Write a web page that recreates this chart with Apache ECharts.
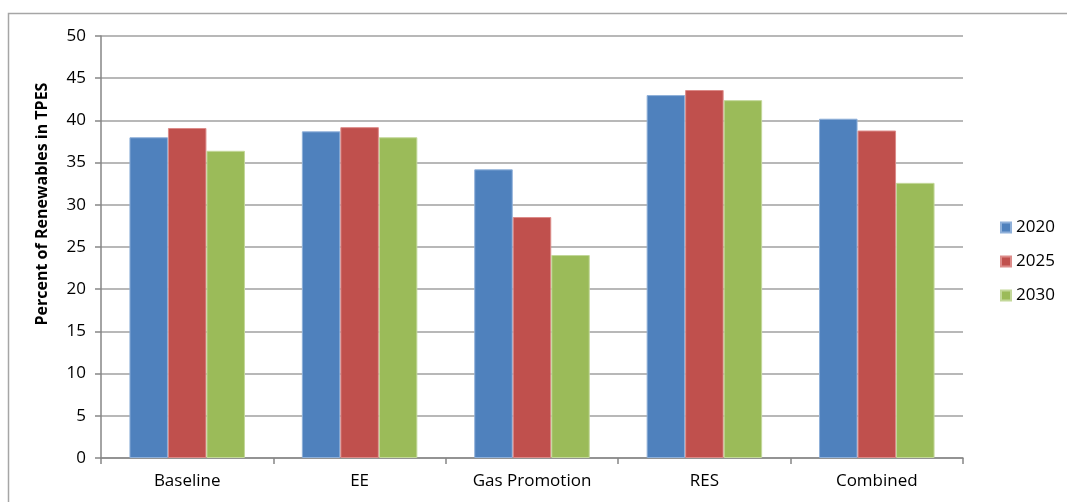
<!DOCTYPE html>
<html><head><meta charset="utf-8">
<script src="https://cdn.jsdelivr.net/npm/echarts@6/dist/echarts.min.js"></script>
<style>html,body{margin:0;padding:0;background:#fff}#c{width:1067px;height:502px}</style>
</head><body><div id="c"></div>
<script>
const categories = ['Baseline', 'EE', 'Gas Promotion', 'RES', 'Combined'];
const seriesNames = ['2020', '2025', '2030'];
const v2020 = [38.0, 38.7, 34.2, 43.0, 40.2];
const v2025 = [39.1, 39.2, 28.55, 43.6, 38.8];
const v2030 = [36.4, 38.0, 24.05, 42.4, 32.6];
const yTicks = [0, 5, 10, 15, 20, 25, 30, 35, 40, 45, 50];
const colors = ['#4F81BD', '#C0504D', '#9BBB59'];
const borders = ['#8fb0d9', '#dc8b89', '#c3d89a'];
const font = '"Open Sans", Lato, sans-serif';
const chart = echarts.init(document.getElementById('c'), null, {renderer: 'canvas'});
const vals = [v2020, v2025, v2030];
chart.setOption({
  animation: false,
  textStyle: {fontFamily: font},
  graphic: [{type: 'rect', shape: {x: 8.5, y: 13.5, width: 1080, height: 520}, style: {fill: 'none', stroke: '#a6a6a6', lineWidth: 1.5}, z: -1}],
  grid: {left: 101, right: 104, top: 36, bottom: 44},
  legend: {
    orient: 'vertical', left: 995, top: 214, itemWidth: 10, itemHeight: 10, itemGap: 17,
    icon: 'rect', data: seriesNames,
    textStyle: {fontSize: 17, color: '#000', fontFamily: font, padding: [0, 0, 0, 0]}
  },
  xAxis: {
    type: 'category', data: categories,
    axisLine: {lineStyle: {color: '#868686', width: 1.5}},
    axisTick: {show: true, length: 6, lineStyle: {color: '#868686', width: 1.5}},
    axisLabel: {fontSize: 17, color: '#000', margin: 15, fontFamily: font}
  },
  yAxis: {
    type: 'value', min: yTicks[0], max: yTicks[yTicks.length - 1], interval: 5,
    name: 'Percent of Renewables in TPES', nameLocation: 'middle', nameGap: 51,
    nameTextStyle: {fontSize: 16, fontWeight: 'bold', color: '#000', fontFamily: font, padding: [0, 0, 0, 86]},
    axisLine: {show: true, lineStyle: {color: '#868686', width: 1.5}},
    axisTick: {show: true, length: 6, lineStyle: {color: '#868686', width: 1.5}},
    axisLabel: {fontSize: 17, color: '#000', margin: 15, fontFamily: font},
    splitLine: {lineStyle: {color: '#a0a0a0', width: 1.5}}
  },
  series: seriesNames.map((n, i) => ({
    name: n, type: 'bar', data: vals[i], barGap: '0%', barCategoryGap: '33%',
    itemStyle: {color: colors[i], borderColor: borders[i], borderWidth: 1}
  }))
});
</script></body></html>
